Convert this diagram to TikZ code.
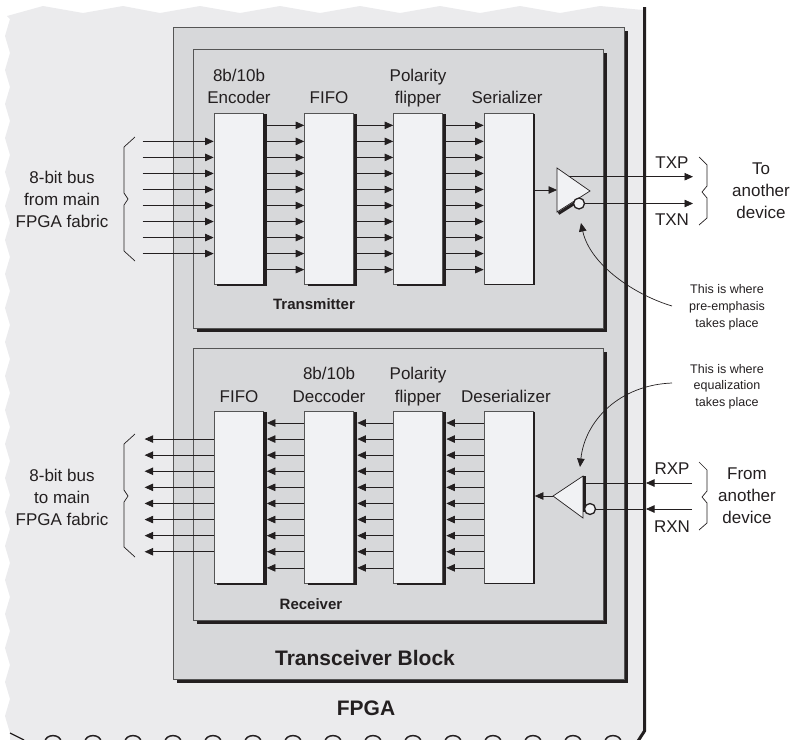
\documentclass[tikz,border=0pt]{standalone}
\usepackage{fontspec}
\setmainfont{Liberation Sans}
\usetikzlibrary{arrows.meta,calc}
\definecolor{fpgabg}{HTML}{EBEBED}
\definecolor{panelbg}{HTML}{D7D8DA}
\definecolor{blockbg}{HTML}{F1F2F4}
\definecolor{ink}{HTML}{231F20}
\definecolor{edgec}{HTML}{555555}
\tikzset{
  panel/.style={draw=edgec, line width=0.8pt, fill=panelbg, anchor=north west, inner sep=0},
  blk/.style={draw=edgec, line width=0.7pt, fill=blockbg, inner sep=0, minimum width=49pt},
  bus/.style={draw=ink, line width=0.7pt, -{Triangle[length=8.5pt,width=7.5pt]}},
  plain/.style={draw=ink, line width=0.7pt},
  lbl/.style={font=\fontsize{17}{22}\selectfont, anchor=base, inner sep=0, text=ink},
  note/.style={font=\fontsize{12.5}{17}\selectfont, anchor=base, inner sep=0, text=ink},
  ttl/.style={font=\bfseries\fontsize{21}{25}\selectfont, anchor=base, inner sep=0, text=ink},
  sttl/.style={font=\bfseries\fontsize{15}{18}\selectfont, anchor=base, inner sep=0, text=ink},
  brace/.style={draw=ink, line width=0.7pt},
  bubble/.style={circle, draw=ink, line width=1.3pt, fill=blockbg, minimum size=11pt, inner sep=0},
}
% shadow on the right (and bottom) of a named node: #1 node, #2 x offset, #3 y offset
\newcommand\dropshade[3]{%
  \fill[ink] ($(#1.north east)+(0,#3)$) rectangle ($(#1.south east)+(#2,#3)$);
  \fill[ink] ($(#1.south west)+(#2,0)$) rectangle ($(#1.south east)+(#2,#3)$);}
\begin{document}
\begin{tikzpicture}[x=1pt,y=-1pt]
\useasboundingbox (0,0) rectangle (792,739);
\clip (0,0) rectangle (792,739);

% FPGA background with torn edges
\fill[fpgabg] (7,16) -- (43,6) -- (83,13) -- (123,6) -- (160,13) -- (200,6) -- (240,13)
  -- (280,6) -- (320,13) -- (360,6) -- (400,13) -- (440,6) -- (480,13) -- (520,6)
  -- (560,13) -- (600,6) -- (643,10) -- (643,733) -- (637,740) -- (10,740) -- (10,733)
  \foreach \i in {1,...,42} { -- ({7.5+2.5*cos(180*\i)},{733-17*\i}) } -- cycle;
\draw[ink, line width=3pt] (644.5,7) -- (644.5,731) -- (638,741);
\draw[ink, line width=1.2pt] (10,733) -- (24,740);
\foreach \i in {0,...,14}
  \draw[ink, line width=1.5pt] ({45+40*\i},742) .. controls ({45+40*\i},733.5) and ({61+40*\i},733.5) .. ({61+40*\i},742);

% panels
\node[panel, minimum width=451pt, minimum height=652pt] (tcvr) at (173,27) {};
\dropshade{tcvr}{3.5}{3.5}
\node[panel, minimum width=410pt, minimum height=279pt] (txpan) at (193,49) {};
\dropshade{txpan}{3.5}{3.5}
\node[panel, minimum width=410pt, minimum height=272pt] (rxpan) at (193,348) {};
\dropshade{rxpan}{3.5}{3.5}

% transmitter blocks
\node[blk, minimum height=171pt] (tenc) at (238.5,198.5) {};
\node[blk, minimum height=171pt] (tfifo) at (329,198.5) {};
\node[blk, minimum height=171pt] (tpol) at (418,198.5) {};
\node[blk, minimum height=171pt] (tser) at (508.5,198.5) {};
% receiver blocks
\node[blk, minimum height=172pt] (rfifo) at (238.5,497) {};
\node[blk, minimum height=172pt] (rdec) at (329,497) {};
\node[blk, minimum height=172pt] (rpol) at (418,497) {};
\node[blk, minimum height=172pt] (rdes) at (508.5,497) {};
\dropshade{tenc}{3.5}{1.5}
\dropshade{tfifo}{3.5}{1.5}
\dropshade{tpol}{3.5}{1.5}
\dropshade{tser}{1.5}{1}
\dropshade{rfifo}{3.5}{1.5}
\dropshade{rdec}{3.5}{1.5}
\dropshade{rpol}{3.5}{1.5}
\dropshade{rdes}{1.5}{1}

% transmitter buses
\foreach \k in {0,...,9}{
  \pgfmathsetmacro{\dy}{12.7+16.03*\k}
  \draw[bus] ([yshift=-\dy pt]tenc.north east) -- ([yshift=-\dy pt]tfifo.north west);
  \draw[bus] ([yshift=-\dy pt]tfifo.north east) -- ([yshift=-\dy pt]tpol.north west);
  \draw[bus] ([yshift=-\dy pt]tpol.north east) -- ([yshift=-\dy pt]tser.north west);
}
\foreach \k in {1,...,8}{
  \pgfmathsetmacro{\dy}{12.7+16.03*\k}
  \draw[bus] ([xshift=-71pt,yshift=-\dy pt]tenc.north west) -- ([yshift=-\dy pt]tenc.north west);
}
% receiver buses
\foreach \k in {0,...,9}{
  \pgfmathsetmacro{\dy}{12.3+16.1*\k}
  \draw[bus] ([yshift=-\dy pt]rdes.north west) -- ([xshift=3.5pt,yshift=-\dy pt]rpol.north east);
  \draw[bus] ([yshift=-\dy pt]rpol.north west) -- ([xshift=3.5pt,yshift=-\dy pt]rdec.north east);
  \draw[bus] ([yshift=-\dy pt]rdec.north west) -- ([xshift=3.5pt,yshift=-\dy pt]rfifo.north east);
}
\foreach \k in {1,...,8}{
  \pgfmathsetmacro{\dy}{12.3+16.1*\k}
  \draw[bus] ([yshift=-\dy pt]rfifo.north west) -- ([xshift=-69pt,yshift=-\dy pt]rfifo.north west);
}

% transmit buffer
\coordinate (txa) at (557,168);
\coordinate (txb) at (557,212);
\coordinate (txt) at (590,191);
\coordinate (txin) at (557,190);
\coordinate (txp) at (568.5,176.7);
\coordinate (txpend) at (693,176.7);
\coordinate (txnend) at (693,203.5);
\draw[bus] ([xshift=1.5pt]tser.east |- txin) -- (txin);
\draw[ink, line width=3pt] (558.5,213.5) -- (575,203);
\filldraw[fill=blockbg, draw=ink, line width=0.7pt] (txa) -- (txt) -- (txb) -- cycle;
\node[bubble] (txbub) at (579,203.5) {};
\draw[bus] (txp) -- (txpend);
\draw[bus] (txbub.east) -- (txnend);

% receive buffer
\coordinate (rxa) at (583,476);
\coordinate (rxb) at (583,518);
\coordinate (rxt) at (553,496);
\coordinate (rxpin) at (585,483);
\coordinate (rxpm) at (646,483);
\coordinate (rxpend) at (692,483);
\coordinate (rxnm) at (646,509);
\coordinate (rxnend) at (692,509);
\filldraw[fill=blockbg, draw=ink, line width=0.7pt] (rxa) -- (rxt) -- (rxb) -- cycle;
\draw[ink, line width=3pt] (584.5,476) -- (584.5,512);
\node[bubble] (rxbub) at (590,509) {};
\draw[bus] (rxt) -- ([xshift=1.5pt]rdes.east |- rxt);
\draw[bus] (rxpend) -- (rxpm);
\draw[plain] (rxpm) -- (rxpin);
\draw[bus] (rxnend) -- (rxnm);
\draw[plain] (rxnm) -- (rxbub.east);

% braces
\draw[brace] (135,137) -- (124,147) -- (124,193) -- (128,199) -- (124,205) -- (124,251) -- (135,261);
\draw[brace] (135,434) -- (124,444) -- (124,490) -- (128,496) -- (124,502) -- (124,547) -- (135,557);
\draw[brace] (699,157) -- (707,165) -- (707,186) -- (702,192) -- (707,198) -- (707,218) -- (699,225);
\draw[brace] (699,462) -- (707,470) -- (707,491) -- (702,497) -- (707,503) -- (707,523) -- (699,530);

% annotation arrows
\coordinate (pestart) at (672,306);
\coordinate (petip) at (581,223);
\coordinate (eqstart) at (672,383);
\coordinate (eqtip) at (580,467);
\draw[bus] (pestart) .. controls (635,295) and (590,265) .. (petip);
\draw[bus] (eqstart) .. controls (620,385) and (585,420) .. (eqtip);

% block labels (transmitter)
\node[lbl] (l1) at (239,81) {8b/10b};
\node[lbl] (l2) at (239,103) {Encoder};
\node[lbl] (l3) at (329,103) {FIFO};
\node[lbl] (l4) at (418,81) {Polarity};
\node[lbl] (l5) at (418,103) {flipper};
\node[lbl] (l6) at (507,103) {Serializer};
% block labels (receiver)
\node[lbl] (l7) at (239,402) {FIFO};
\node[lbl] (l8) at (329,379) {8b/10b};
\node[lbl] (l9) at (329,402) {Deccoder};
\node[lbl] (l10) at (418,379) {Polarity};
\node[lbl] (l11) at (418,402) {flipper};
\node[lbl] (l12) at (506,402) {Deserializer};

\node[sttl] (ltx) at (314,309) {Transmitter};
\node[sttl] (lrx) at (311,609) {Receiver};
\node[ttl] (ltcv) at (365,665.5) {Transceiver Block};
\node[ttl] (lfpga) at (366,715.5) {FPGA};

% side labels
\node[lbl] (b1) at (62,183) {8-bit bus};
\node[lbl] (b2) at (62,205) {from main};
\node[lbl] (b3) at (62,227) {FPGA fabric};
\node[lbl] (b4) at (62,481) {8-bit bus};
\node[lbl] (b5) at (62,503) {to main};
\node[lbl] (b6) at (62,525) {FPGA fabric};

\node[lbl] (ltxp) at (672,168) {TXP};
\node[lbl] (ltxn) at (672,225) {TXN};
\node[lbl] (lrxp) at (672,474) {RXP};
\node[lbl] (lrxn) at (672,532) {RXN};

\node[lbl] (d1) at (761,174) {To};
\node[lbl] (d2) at (761,196) {another};
\node[lbl] (d3) at (761,218) {device};
\node[lbl] (d4) at (747,479) {From};
\node[lbl] (d5) at (747,501) {another};
\node[lbl] (d6) at (747,523) {device};

\node[note] (n1) at (727,293) {This is where};
\node[note] (n2) at (727,310) {pre-emphasis};
\node[note] (n3) at (727,327) {takes place};
\node[note] (n4) at (727,373) {This is where};
\node[note] (n5) at (727,389) {equalization};
\node[note] (n6) at (727,406) {takes place};
\end{tikzpicture}
\end{document}
